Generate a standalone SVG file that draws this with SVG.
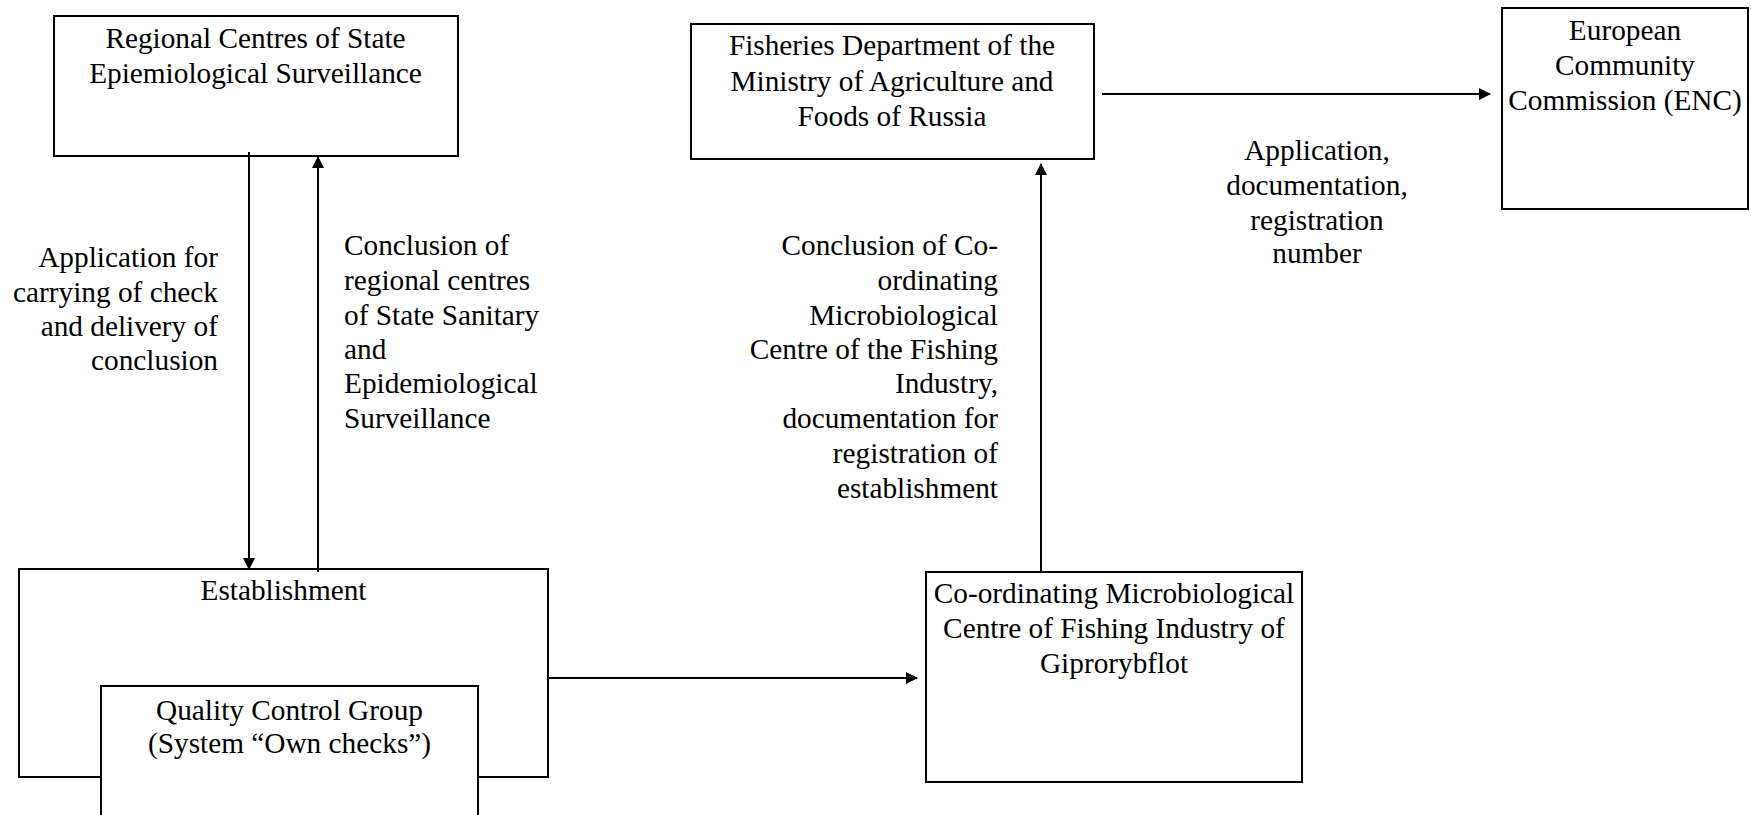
<svg xmlns="http://www.w3.org/2000/svg" width="1751" height="815" viewBox="0 0 1751 815">
<style>
text{font-family:"Liberation Serif","Times New Roman",serif;font-size:29.3px;fill:#000}
.c{text-anchor:middle}
.r{text-anchor:end}
.box{fill:#fff;stroke:#000;stroke-width:2}
.ln{stroke:#000;stroke-width:2;fill:none}
</style>
<defs>
<marker id="ah" viewBox="0 0 12 12" refX="11" refY="6" markerWidth="12" markerHeight="12" markerUnits="userSpaceOnUse" orient="auto">
<path d="M0,0 L12,6 L0,12 Z" fill="#000"/>
</marker>
</defs>
<rect width="1751" height="815" fill="#fff"/>
<g id="regional">
<rect class="box" x="54" y="16" width="404" height="140"/>
<text class="c" x="255.5" y="48">Regional Centres of State</text>
<text class="c" x="255.5" y="83">Epiemiological Surveillance</text>
</g>
<g id="fisheries">
<rect class="box" x="691" y="24" width="403" height="135"/>
<text class="c" x="892" y="55">Fisheries Department of the</text>
<text class="c" x="892" y="91">Ministry of Agriculture and</text>
<text class="c" x="892" y="126">Foods of Russia</text>
</g>
<g id="enc">
<rect class="box" x="1502" y="8" width="246" height="201"/>
<text class="c" x="1625" y="40">European</text>
<text class="c" x="1625" y="75">Community</text>
<text class="c" x="1625" y="110">Commission (ENC)</text>
</g>
<g id="establishment">
<rect class="box" x="19" y="569" width="529" height="208"/>
<text class="c" x="283.5" y="600">Establishment</text>
</g>
<g id="quality">
<rect class="box" x="101" y="686" width="377" height="150"/>
<text class="c" x="289.5" y="720">Quality Control Group</text>
<text class="c" x="289.5" y="753">(System “Own checks”)</text>
</g>
<g id="coordinating">
<rect class="box" x="926" y="572" width="376" height="210"/>
<text class="c" x="1114" y="603">Co-ordinating Microbiological</text>
<text class="c" x="1114" y="638">Centre of Fishing Industry of</text>
<text class="c" x="1114" y="673">Giprorybflot</text>
</g>
<g id="connectors">
<line class="ln" x1="249" y1="152" x2="249" y2="569" marker-end="url(#ah)"/>
<line class="ln" x1="318" y1="572" x2="318" y2="157" marker-end="url(#ah)"/>
<line class="ln" x1="548" y1="678" x2="917" y2="678" marker-end="url(#ah)"/>
<line class="ln" x1="1041" y1="572" x2="1041" y2="164" marker-end="url(#ah)"/>
<line class="ln" x1="1102" y1="94" x2="1490" y2="94" marker-end="url(#ah)"/>
</g>
<g id="labels">
<text class="r" x="218" y="267">Application for</text>
<text class="r" x="218" y="302">carrying of check</text>
<text class="r" x="218" y="336">and delivery of</text>
<text class="r" x="218" y="370">conclusion</text>
<text x="344" y="255">Conclusion of</text>
<text x="344" y="290">regional centres</text>
<text x="344" y="325">of State Sanitary</text>
<text x="344" y="359">and</text>
<text x="344" y="393">Epidemiological</text>
<text x="344" y="428">Surveillance</text>
<text class="r" x="998" y="255">Conclusion of Co-</text>
<text class="r" x="998" y="290">ordinating</text>
<text class="r" x="998" y="325">Microbiological</text>
<text class="r" x="998" y="359">Centre of the Fishing</text>
<text class="r" x="998" y="393">Industry,</text>
<text class="r" x="998" y="428">documentation for</text>
<text class="r" x="998" y="463">registration of</text>
<text class="r" x="998" y="498">establishment</text>
<text class="c" x="1317" y="160">Application,</text>
<text class="c" x="1317" y="195">documentation,</text>
<text class="c" x="1317" y="230">registration</text>
<text class="c" x="1317" y="263">number</text>
</g>
</svg>
